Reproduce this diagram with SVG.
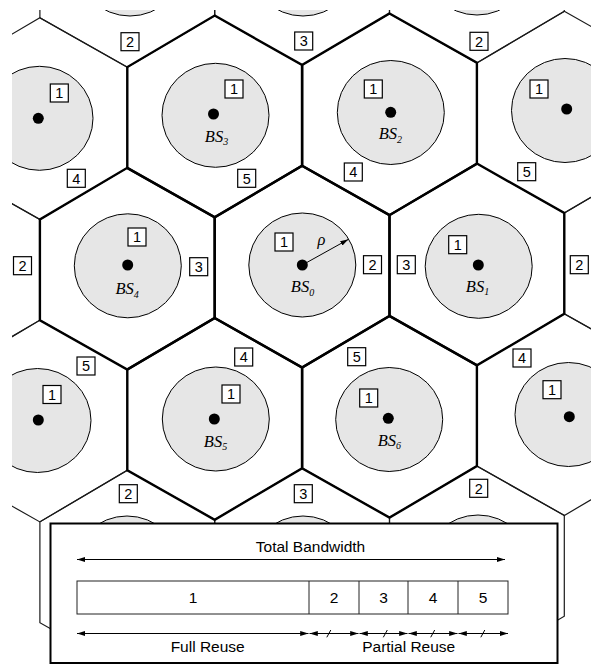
<svg xmlns="http://www.w3.org/2000/svg" xmlns:xlink="http://www.w3.org/1999/xlink" width="591" height="666" viewBox="0 0 591 666">
<defs>
<style>
.hin{fill:none;stroke:#000;stroke-width:2.4;stroke-linejoin:miter}
.hout{fill:none;stroke:#1a1a1a;stroke-width:1.2;stroke-linejoin:miter}
.cov{fill:#e6e6e6;stroke:#000;stroke-width:1}
.dot{fill:#000}
.bx rect{fill:#fff;stroke:#000;stroke-width:1.2}
.bx text{font-family:"Liberation Sans",Arial,sans-serif;font-size:14.5px;text-anchor:middle;fill:#000}
.bs{font-family:"Liberation Serif","Times New Roman",serif;font-style:italic;font-size:16.5px;text-anchor:middle;fill:#000}
.t{font-family:"Liberation Sans",Arial,sans-serif;font-size:15.5px;text-anchor:middle;fill:#000}
.ar{stroke:#000;stroke-width:1;fill:none}
</style>
<path id="hx" d="M0,-100.9L87.4,-50.45L87.4,50.45L0,100.9L-87.4,50.45L-87.4,-50.45Z"/>
<marker id="ah" viewBox="0 0 10 6" refX="10" refY="3" markerWidth="8.5" markerHeight="5" orient="auto-start-reverse" markerUnits="userSpaceOnUse"><path d="M0,0L10,3L0,6Z" fill="#000"/></marker>
<clipPath id="clip"><rect x="12" y="10" width="590" height="650"/></clipPath>
</defs>
<rect x="0" y="0" width="591" height="666" fill="#fff"/>
<g id="cells" clip-path="url(#clip)">
  <!-- outer cells (thin borders) -->
  <g id="cell-r-2-a">
    <use href="#hx" class="hout" transform="matrix(1,-0.01222,0,1,0,3.69) translate(127.3,-35.8)"/>
    <ellipse class="cov" cx="130" cy="-36" rx="53.5" ry="52"/>
    <g class="bx" transform="translate(130,41.7)"><rect x="-9" y="-9" width="18" height="18"/><text y="5.2">2</text></g>
  </g>
  <g id="cell-r-2-b">
    <use href="#hx" class="hout" transform="matrix(1,-0.01222,0,1,0,3.69) translate(302.1,-35.8)"/>
    <ellipse class="cov" cx="303" cy="-36" rx="53.5" ry="52"/>
    <g class="bx" transform="translate(303.7,41)"><rect x="-9" y="-9" width="18" height="18"/><text y="5.2">3</text></g>
  </g>
  <g id="cell-r-2-c">
    <use href="#hx" class="hout" transform="matrix(1,-0.01222,0,1,0,3.69) translate(476.9,-35.8)"/>
    <ellipse class="cov" cx="477" cy="-37" rx="53.5" ry="52"/>
    <g class="bx" transform="translate(479,41.3)"><rect x="-9" y="-9" width="18" height="18"/><text y="5.2">2</text></g>
  </g>
  <g id="cell-r-1-left">
    <use href="#hx" class="hout" transform="matrix(1,-0.01222,0,1,0,3.69) translate(39.9,115.4)"/>
    <ellipse class="cov" cx="39.5" cy="118.3" rx="53.5" ry="52"/>
    <circle class="dot" cx="38.3" cy="118.3" r="5.5"/>
    <g class="bx" transform="translate(59.3,93)"><rect x="-9" y="-9" width="18" height="18"/><text y="5.2">1</text></g>
    <g class="bx" transform="translate(76.3,178.3)"><rect x="-9" y="-9" width="18" height="18"/><text y="5.2">4</text></g>
  </g>
  <g id="cell-r-1-right">
    <use href="#hx" class="hout" transform="matrix(1,-0.01222,0,1,0,3.69) translate(564.3,115.4)"/>
    <ellipse class="cov" cx="565" cy="110.5" rx="53.5" ry="52"/>
    <circle class="dot" cx="566.7" cy="109" r="5.5"/>
    <g class="bx" transform="translate(539,89)"><rect x="-9" y="-9" width="18" height="18"/><text y="5.2">1</text></g>
    <g class="bx" transform="translate(526.7,171.7)"><rect x="-9" y="-9" width="18" height="18"/><text y="5.2">5</text></g>
  </g>
  <g id="cell-r0-left">
    <use href="#hx" class="hout" transform="matrix(1,-0.01222,0,1,0,3.69) translate(-47.5,266.6)"/>
    <g class="bx" transform="translate(22.5,265.7)"><rect x="-9" y="-9" width="18" height="18"/><text y="5.2">2</text></g>
  </g>
  <g id="cell-r0-right">
    <use href="#hx" class="hout" transform="matrix(1,-0.01222,0,1,0,3.69) translate(651.7,266.6)"/>
    <g class="bx" transform="translate(579.3,264.7)"><rect x="-9" y="-9" width="18" height="18"/><text y="5.2">2</text></g>
  </g>
  <g id="cell-r1-left">
    <use href="#hx" class="hout" transform="matrix(1,-0.01222,0,1,0,3.69) translate(39.9,417.8)"/>
    <ellipse class="cov" cx="37.5" cy="420.5" rx="53.5" ry="52"/>
    <circle class="dot" cx="38.3" cy="420" r="5.5"/>
    <g class="bx" transform="translate(86,366)"><rect x="-9" y="-9" width="18" height="18"/><text y="5.2">5</text></g>
    <g class="bx" transform="translate(52,394.5)"><rect x="-9" y="-9" width="18" height="18"/><text y="5.2">1</text></g>
  </g>
  <g id="cell-r1-right">
    <use href="#hx" class="hout" transform="matrix(1,-0.01222,0,1,0,3.69) translate(564.3,417.8)"/>
    <ellipse class="cov" cx="568.5" cy="414.5" rx="53.5" ry="52"/>
    <circle class="dot" cx="569.3" cy="416.7" r="5.5"/>
    <g class="bx" transform="translate(522,358)"><rect x="-9" y="-9" width="18" height="18"/><text y="5.2">4</text></g>
    <g class="bx" transform="translate(552,389.7)"><rect x="-9" y="-9" width="18" height="18"/><text y="5.2">1</text></g>
  </g>
  <g id="cell-r2-a">
    <use href="#hx" class="hout" transform="matrix(1,-0.01222,0,1,0,3.69) translate(127.3,569)"/>
    <ellipse class="cov" cx="127" cy="568" rx="53.5" ry="52"/>
    <g class="bx" transform="translate(128.3,493.7)"><rect x="-9" y="-9" width="18" height="18"/><text y="5.2">2</text></g>
  </g>
  <g id="cell-r2-b">
    <use href="#hx" class="hout" transform="matrix(1,-0.01222,0,1,0,3.69) translate(302.1,569)"/>
    <ellipse class="cov" cx="303" cy="568" rx="53.5" ry="52"/>
    <g class="bx" transform="translate(303.3,493.7)"><rect x="-9" y="-9" width="18" height="18"/><text y="5.2">3</text></g>
  </g>
  <g id="cell-r2-c">
    <use href="#hx" class="hout" transform="matrix(1,-0.01222,0,1,0,3.69) translate(476.9,569)"/>
    <ellipse class="cov" cx="478" cy="567" rx="53.5" ry="52"/>
    <g class="bx" transform="translate(478.7,488.3)"><rect x="-9" y="-9" width="18" height="18"/><text y="5.2">2</text></g>
  </g>

  <!-- inner cluster (thick borders) -->
  <g id="BS3">
    <use href="#hx" class="hin" transform="matrix(1,-0.01222,0,1,0,3.69) translate(214.7,115.4)"/>
    <ellipse class="cov" cx="215.5" cy="115.3" rx="53.5" ry="52"/>
    <circle class="dot" cx="213.5" cy="114" r="5.5"/>
    <text class="bs" x="216.5" y="141.7">BS<tspan font-size="10" dy="3.5">3</tspan></text>
    <g class="bx" transform="translate(234,89)"><rect x="-9" y="-9" width="18" height="18"/><text y="5.2">1</text></g>
    <g class="bx" transform="translate(246.7,178.3)"><rect x="-9" y="-9" width="18" height="18"/><text y="5.2">5</text></g>
  </g>
  <g id="BS2">
    <use href="#hx" class="hin" transform="matrix(1,-0.01222,0,1,0,3.69) translate(389.5,115.4)"/>
    <ellipse class="cov" cx="390.8" cy="112.5" rx="53.5" ry="52"/>
    <circle class="dot" cx="390.7" cy="112.3" r="5.5"/>
    <text class="bs" x="390.3" y="139.3">BS<tspan font-size="10" dy="3.5">2</tspan></text>
    <g class="bx" transform="translate(373.3,89)"><rect x="-9" y="-9" width="18" height="18"/><text y="5.2">1</text></g>
    <g class="bx" transform="translate(353.3,172)"><rect x="-9" y="-9" width="18" height="18"/><text y="5.2">4</text></g>
  </g>
  <g id="BS4">
    <use href="#hx" class="hin" transform="matrix(1,-0.01222,0,1,0,3.69) translate(127.3,266.6)"/>
    <ellipse class="cov" cx="127.8" cy="265.8" rx="53.5" ry="52"/>
    <circle class="dot" cx="127.7" cy="265" r="5.5"/>
    <text class="bs" x="127.2" y="294">BS<tspan font-size="10" dy="3.5">4</tspan></text>
    <g class="bx" transform="translate(137,237)"><rect x="-9" y="-9" width="18" height="18"/><text y="5.2">1</text></g>
    <g class="bx" transform="translate(198.7,266.7)"><rect x="-9" y="-9" width="18" height="18"/><text y="5.2">3</text></g>
  </g>
  <g id="BS0">
    <use href="#hx" class="hin" transform="matrix(1,-0.01222,0,1,0,3.69) translate(302.1,266.6)"/>
    <ellipse class="cov" cx="302.3" cy="265" rx="53.5" ry="52"/>
    <circle class="dot" cx="302.3" cy="265" r="5.5"/>
    <text class="bs" x="302.5" y="292">BS<tspan font-size="10" dy="3.5">0</tspan></text>
    <text class="bs" x="321.5" y="244.5" font-size="17">ρ</text>
    <g class="bx" transform="translate(284,242)"><rect x="-9" y="-9" width="18" height="18"/><text y="5.2">1</text></g>
    <g class="bx" transform="translate(372.5,264.7)"><rect x="-9" y="-9" width="18" height="18"/><text y="5.2">2</text></g>
  </g>
  <g id="BS1">
    <use href="#hx" class="hin" transform="matrix(1,-0.01222,0,1,0,3.69) translate(476.9,266.6)"/>
    <ellipse class="cov" cx="478.7" cy="266.3" rx="53.5" ry="52"/>
    <circle class="dot" cx="478.3" cy="265" r="5.5"/>
    <text class="bs" x="477.5" y="291.7">BS<tspan font-size="10" dy="3.5">1</tspan></text>
    <g class="bx" transform="translate(406.3,264.7)"><rect x="-9" y="-9" width="18" height="18"/><text y="5.2">3</text></g>
    <g class="bx" transform="translate(457.7,244.7)"><rect x="-9" y="-9" width="18" height="18"/><text y="5.2">1</text></g>
  </g>
  <g id="BS5">
    <use href="#hx" class="hin" transform="matrix(1,-0.01222,0,1,0,3.69) translate(214.7,417.8)"/>
    <ellipse class="cov" cx="215.8" cy="419" rx="53.5" ry="52"/>
    <circle class="dot" cx="214.3" cy="419" r="5.5"/>
    <text class="bs" x="215.5" y="446.7">BS<tspan font-size="10" dy="3.5">5</tspan></text>
    <g class="bx" transform="translate(243.7,357)"><rect x="-9" y="-9" width="18" height="18"/><text y="5.2">4</text></g>
    <g class="bx" transform="translate(231,394)"><rect x="-9" y="-9" width="18" height="18"/><text y="5.2">1</text></g>
  </g>
  <g id="BS6">
    <use href="#hx" class="hin" transform="matrix(1,-0.01222,0,1,0,3.69) translate(389.5,417.8)"/>
    <ellipse class="cov" cx="389.2" cy="419.5" rx="53.5" ry="52"/>
    <circle class="dot" cx="388.3" cy="418.3" r="5.5"/>
    <text class="bs" x="389.3" y="445.7">BS<tspan font-size="10" dy="3.5">6</tspan></text>
    <g class="bx" transform="translate(356.7,356.7)"><rect x="-9" y="-9" width="18" height="18"/><text y="5.2">5</text></g>
    <g class="bx" transform="translate(368.7,398)"><rect x="-9" y="-9" width="18" height="18"/><text y="5.2">1</text></g>
  </g>
</g>

<g id="connectors">
  <line class="ar" x1="302.3" y1="265" x2="348.5" y2="239.3" marker-end="url(#ah)"/>
</g>

<g id="bandwidth">
  <rect x="50.5" y="523.5" width="507" height="139.5" fill="#fff" stroke="#000" stroke-width="2"/>
  <text class="t" x="310.5" y="551.5">Total Bandwidth</text>
  <line class="ar" x1="77" y1="559.5" x2="505" y2="559.5" marker-start="url(#ah)" marker-end="url(#ah)"/>
  <rect x="77" y="581" width="431" height="33" fill="#fff" stroke="#222" stroke-width="1"/>
  <line x1="309" y1="581" x2="309" y2="614" stroke="#222" stroke-width="1"/>
  <line x1="359" y1="581" x2="359" y2="614" stroke="#222" stroke-width="1"/>
  <line x1="408" y1="581" x2="408" y2="614" stroke="#222" stroke-width="1"/>
  <line x1="458" y1="581" x2="458" y2="614" stroke="#222" stroke-width="1"/>
  <text class="t" x="193" y="603">1</text>
  <text class="t" x="334" y="603">2</text>
  <text class="t" x="383.5" y="603">3</text>
  <text class="t" x="433" y="603">4</text>
  <text class="t" x="483" y="603">5</text>
  <line class="ar" x1="77" y1="633.5" x2="308.5" y2="633.5" marker-start="url(#ah)" marker-end="url(#ah)"/>
  <line class="ar" x1="309.5" y1="633.5" x2="358.5" y2="633.5" marker-start="url(#ah)" marker-end="url(#ah)"/>
  <line class="ar" x1="359.5" y1="633.5" x2="407.5" y2="633.5" marker-start="url(#ah)" marker-end="url(#ah)"/>
  <line class="ar" x1="408.5" y1="633.5" x2="457.5" y2="633.5" marker-start="url(#ah)" marker-end="url(#ah)"/>
  <line class="ar" x1="458.5" y1="633.5" x2="508" y2="633.5" marker-start="url(#ah)" marker-end="url(#ah)"/>
  <path class="ar" d="M326.8,637.3L330.8,630M383.3,637.3L387.3,630M430.7,637.3L434.7,630M480.8,637.3L484.8,630"/>
  <text class="t" x="207.7" y="651.5">Full Reuse</text>
  <text class="t" x="408.7" y="651.5">Partial Reuse</text>
</g>
</svg>
